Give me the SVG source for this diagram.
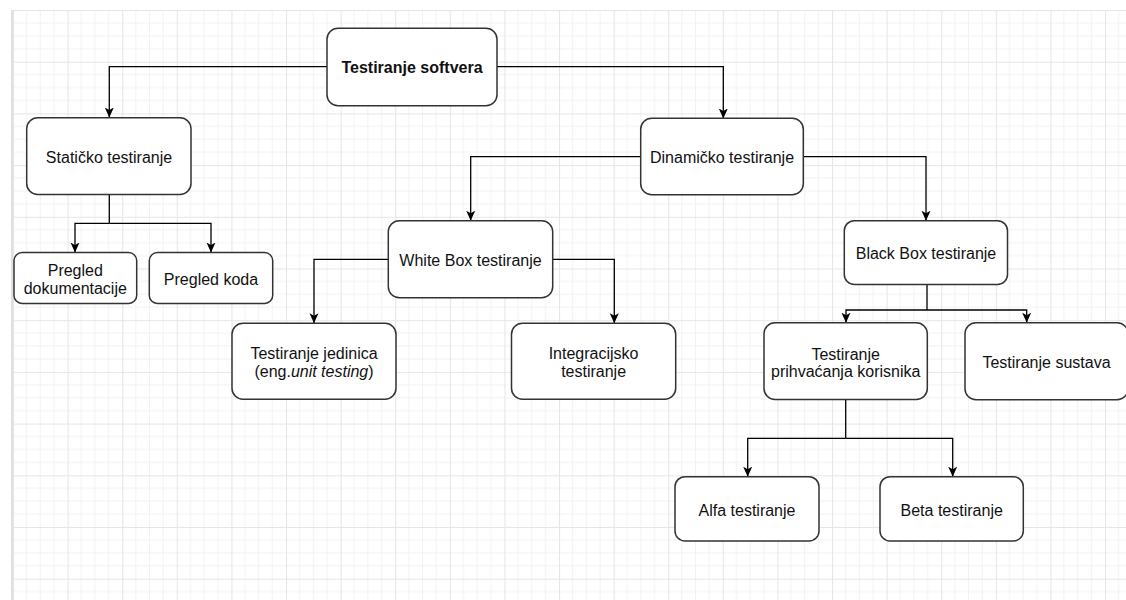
<svg xmlns="http://www.w3.org/2000/svg" width="1126" height="600" viewBox="0 0 1126 600">
<defs>
<pattern id="grid" x="13" y="10" width="54.6" height="51.7" patternUnits="userSpaceOnUse">
<path d="M13.65,0V51.7M27.3,0V51.7M40.95,0V51.7M0,12.93H54.6M0,25.85H54.6M0,38.78H54.6" stroke="#f2f2f2" stroke-width="1" fill="none"/>
<path d="M0.5,0V51.7M0,0.5H54.6" stroke="#e6e6e6" stroke-width="1.2" fill="none"/>
</pattern>
<marker id="arr" viewBox="0 0 10 10" refX="10" refY="5" markerWidth="10" markerHeight="10" markerUnits="userSpaceOnUse" orient="auto">
<path d="M0,0.5L10,5L0,9.5L2.5,5Z" fill="#000"/>
</marker>
<style>
.box{fill:#fff;stroke:#333;stroke-width:1.5}
.lbl{font-family:"Liberation Sans",Arial,sans-serif;font-size:16px;fill:#111;text-anchor:middle}
.bold{font-weight:bold}
.edge{fill:none;stroke:#000;stroke-width:1.3;marker-end:url(#arr)}
.line{fill:none;stroke:#000;stroke-width:1.3}
</style>
</defs>
<rect x="0" y="0" width="1126" height="600" fill="#fff"/>
<rect x="13" y="10" width="1113" height="590" fill="url(#grid)"/>
<rect x="11" y="10" width="2.2" height="590" fill="#e0e0e0"/>

<g id="connectors">
<path class="edge" d="M327,66.7H109.3V117.5"/>
<path class="edge" d="M497,66.7H723.3V118.5"/>
<path class="line" d="M109.3,194.5V223.3"/>
<path class="edge" d="M109.3,223.3H75V252.5"/>
<path class="edge" d="M109.3,223.3H211V252.5"/>
<path class="edge" d="M640.7,156.7H470.7V220.7"/>
<path class="edge" d="M803.3,156.7H926V220.7"/>
<path class="edge" d="M388.3,259.3H314V323.3"/>
<path class="edge" d="M552.7,259.3H614.3V323.3"/>
<path class="line" d="M927,284.5V310"/>
<path class="edge" d="M927,310H846V322.7"/>
<path class="edge" d="M927,310H1026.7V322.7"/>
<path class="line" d="M845.7,399.5V438.3"/>
<path class="edge" d="M845.7,438.3H747.7V476.7"/>
<path class="edge" d="M845.7,438.3H952.7V476.7"/>
</g>

<g id="root">
<rect class="box" x="327" y="28.3" width="170" height="77.4" rx="11"/>
<text class="lbl bold" x="412" y="73">Testiranje softvera</text>
</g>
<g id="staticko">
<rect class="box" x="26.7" y="117.7" width="164.3" height="76.8" rx="11"/>
<text class="lbl" x="109" y="162.5">Statičko testiranje</text>
</g>
<g id="dinamicko">
<rect class="box" x="640.7" y="118.3" width="162.6" height="76.4" rx="11"/>
<text class="lbl" x="722" y="162.5">Dinamičko testiranje</text>
</g>
<g id="pregled-dokumentacije">
<rect class="box" x="14" y="252.6" width="122.7" height="50.8" rx="8"/>
<text class="lbl" x="75.3" y="275.7">Pregled</text>
<text class="lbl" x="75.3" y="294">dokumentacije</text>
</g>
<g id="pregled-koda">
<rect class="box" x="149.3" y="252.6" width="123.4" height="50.8" rx="8"/>
<text class="lbl" x="211" y="284.7">Pregled koda</text>
</g>
<g id="white-box">
<rect class="box" x="388.3" y="220.7" width="164.4" height="77" rx="11"/>
<text class="lbl" x="470.5" y="265.7">White Box testiranje</text>
</g>
<g id="black-box">
<rect class="box" x="844.3" y="220.7" width="163.2" height="63.8" rx="10"/>
<text class="lbl" x="926" y="259">Black Box testiranje</text>
</g>
<g id="jedinice">
<rect class="box" x="232" y="323.3" width="164" height="76" rx="11"/>
<text class="lbl" x="314" y="359">Testiranje jedinica</text>
<text class="lbl" x="314" y="377.4">(eng.<tspan font-style="italic">unit testing</tspan>)</text>
</g>
<g id="integracijsko">
<rect class="box" x="511.5" y="323.3" width="164.2" height="76" rx="11"/>
<text class="lbl" x="593.6" y="359">Integracijsko</text>
<text class="lbl" x="593.6" y="377.4">testiranje</text>
</g>
<g id="prihvacanje">
<rect class="box" x="764" y="322.7" width="163.3" height="76.8" rx="11"/>
<text class="lbl" x="845.7" y="359.7">Testiranje</text>
<text class="lbl" x="845.7" y="377.4">prihvaćanja korisnika</text>
</g>
<g id="sustav">
<rect class="box" x="965" y="322.7" width="163" height="77" rx="11"/>
<text class="lbl" x="1046.5" y="368.4">Testiranje sustava</text>
</g>
<g id="alfa">
<rect class="box" x="675" y="476.7" width="144" height="64.3" rx="10"/>
<text class="lbl" x="747" y="515.7">Alfa testiranje</text>
</g>
<g id="beta">
<rect class="box" x="880" y="476.7" width="143.3" height="64.3" rx="10"/>
<text class="lbl" x="951.7" y="515.7">Beta testiranje</text>
</g>
</svg>
